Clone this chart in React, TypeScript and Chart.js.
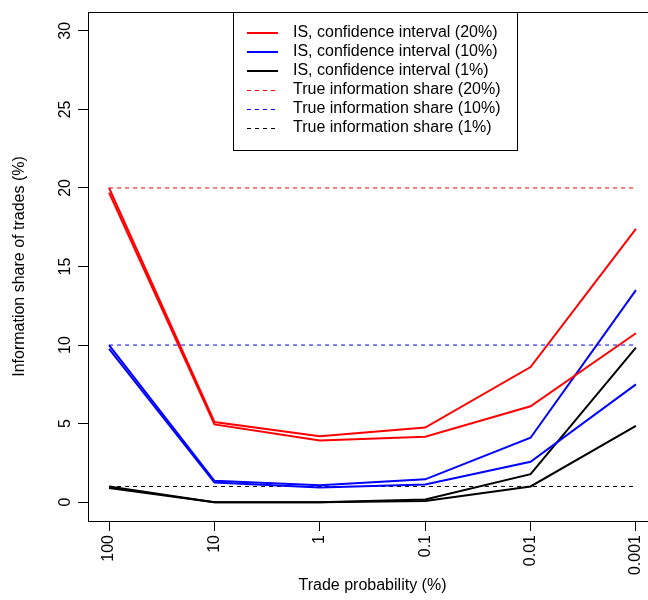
import { useEffect, useRef } from 'react';
import { Chart, registerables } from 'chart.js';

Chart.register(...registerables);

const categories = ['100', '10', '1', '0.1', '0.01', '0.001'];
const xPositions = [1, 2, 3, 4, 5, 6];
const yTicks = [0, 5, 10, 15, 20, 25, 30];

const red20Upper = [20.0, 5.1, 4.2, 4.75, 8.6, 17.4];
const red20Lower = [19.7, 4.95, 3.93, 4.16, 6.1, 10.75];
const blue10Upper = [10.0, 1.36, 1.08, 1.45, 4.1, 13.5];
const blue10Lower = [9.75, 1.25, 0.94, 1.13, 2.57, 7.5];
const black1Upper = [1.0, 0.0, 0.0, 0.17, 1.78, 9.83];
const black1Lower = [0.9, 0.0, 0.0, 0.08, 1.0, 4.86];
const trueShare20 = [20, 20, 20, 20, 20, 20];
const trueShare10 = [10, 10, 10, 10, 10, 10];
const trueShare1 = [1, 1, 1, 1, 1, 1];

const legendLabels = [
  'IS, confidence interval (20%)',
  'IS, confidence interval (10%)',
  'IS, confidence interval (1%)',
  'True information share (20%)',
  'True information share (10%)',
  'True information share (1%)',
];
const legendColors = ['#ff0000', '#0000ff', '#000000', '#ff0000', '#0000ff', '#000000'];
const legendDashed = [false, false, false, true, true, true];

const xTitle = 'Trade probability (%)';
const yTitle = 'Information share of trades (%)';

const FONT = '"Liberation Sans", Arial, Helvetica, sans-serif';

export default function App() {
  const ref = useRef<HTMLCanvasElement>(null);

  useEffect(() => {
    if (!ref.current) return;
    const pts = (arr: number[]) => arr.map((y, i) => ({ x: xPositions[i], y }));
    const solid = (label: string, arr: number[], color: string) => ({
      label,
      data: pts(arr),
      borderColor: color,
      backgroundColor: color,
      borderWidth: 2,
      pointRadius: 0,
      tension: 0,
      fill: false,
    });
    const dashed = (label: string, arr: number[], color: string) => ({
      label,
      data: pts(arr),
      borderColor: color,
      backgroundColor: color,
      borderWidth: 1,
      borderDash: [4, 4],
      pointRadius: 0,
      tension: 0,
      fill: false,
    });

    const datasets = [
      solid(legendLabels[0], red20Upper, legendColors[0]),
      solid(legendLabels[0] + ' lower', red20Lower, legendColors[0]),
      solid(legendLabels[1], blue10Upper, legendColors[1]),
      solid(legendLabels[1] + ' lower', blue10Lower, legendColors[1]),
      solid(legendLabels[2], black1Upper, legendColors[2]),
      solid(legendLabels[2] + ' lower', black1Lower, legendColors[2]),
      dashed(legendLabels[3], trueShare20, legendColors[3]),
      dashed(legendLabels[4], trueShare10, legendColors[4]),
      dashed(legendLabels[5], trueShare1, legendColors[5]),
    ];

    const boxPlugin = {
      id: 'rbox',
      afterDatasetsDraw(chart: any) {
        const { ctx, chartArea } = chart;
        ctx.save();
        ctx.strokeStyle = '#000';
        ctx.lineWidth = 1;
        ctx.setLineDash([]);
        ctx.strokeRect(
          Math.round(chartArea.left) + 0.5,
          Math.round(chartArea.top) + 0.5,
          Math.round(chartArea.right - chartArea.left),
          Math.round(chartArea.bottom - chartArea.top)
        );
        ctx.restore();
      },
    };

    const legendPlugin = {
      id: 'rlegend',
      afterDraw(chart: any) {
        const { ctx } = chart;
        const bx = 233.5, by = 12.5, bw = 284, bh = 138;
        ctx.save();
        ctx.fillStyle = '#fff';
        ctx.fillRect(bx, by, bw, bh);
        ctx.strokeStyle = '#000';
        ctx.lineWidth = 1;
        ctx.setLineDash([]);
        ctx.strokeRect(bx, by, bw, bh);
        ctx.font = `16px ${FONT}`;
        ctx.textBaseline = 'middle';
        ctx.textAlign = 'left';
        legendLabels.forEach((lab, i) => {
          const y = 33 + i * 19;
          ctx.beginPath();
          ctx.strokeStyle = legendColors[i];
          ctx.lineWidth = legendDashed[i] ? 1 : 2;
          ctx.setLineDash(legendDashed[i] ? [4, 4] : []);
          const ly = legendDashed[i] ? y + 0.5 : y;
          ctx.moveTo(247, ly);
          ctx.lineTo(278, ly);
          ctx.stroke();
          ctx.fillStyle = '#000';
          ctx.fillText(lab, 293, y);
        });
        ctx.restore();
      },
    };

    const chart = new Chart(ref.current, {
      type: 'line',
      data: { datasets: datasets as any },
      options: {
        animation: false,
        responsive: false,
        maintainAspectRatio: false,
        devicePixelRatio: 1,
        layout: { padding: { top: 12, right: 3, left: 0, bottom: 0 } },
        plugins: { legend: { display: false }, tooltip: { enabled: false } },
        scales: {
          x: {
            type: 'linear',
            min: 0.8,
            max: 6.2,
            afterBuildTicks: (s: any) => {
              s.ticks = xPositions.map((v) => ({ value: v }));
            },
            afterFit: (s: any) => {
              s.height = 79;
              s.paddingLeft = 0;
              s.paddingRight = 0;
            },
            ticks: {
              autoSkip: false,
              minRotation: 90,
              maxRotation: 90,
              padding: 4,
              color: '#000',
              font: { family: FONT, size: 16 },
              callback: (v: any) => categories[Math.round(Number(v)) - 1] ?? '',
            },
            grid: { drawOnChartArea: false, drawTicks: true, tickLength: 10, color: '#000', lineWidth: 1 },
            border: { display: false },
            title: {
              display: true,
              text: xTitle,
              color: '#000',
              font: { family: FONT, size: 16 },
              padding: { top: 0, bottom: 5 },
            },
          },
          y: {
            type: 'linear',
            min: -1.2,
            max: 31.2,
            afterBuildTicks: (s: any) => {
              s.ticks = yTicks.map((v) => ({ value: v }));
            },
            afterFit: (s: any) => {
              s.width = 88;
              s.paddingTop = 0;
              s.paddingBottom = 0;
            },
            ticks: {
              minRotation: 90,
              maxRotation: 90,
              crossAlign: 'center',
              padding: 4,
              color: '#000',
              font: { family: FONT, size: 16 },
              callback: (v: any) => String(v),
            },
            grid: { drawOnChartArea: false, drawTicks: true, tickLength: 10, color: '#000', lineWidth: 1 },
            border: { display: false },
            title: {
              display: true,
              text: yTitle,
              color: '#000',
              font: { family: FONT, size: 16 },
              padding: { top: 10, bottom: 0 },
            },
          },
        },
      } as any,
      plugins: [boxPlugin, legendPlugin],
    });
    return () => chart.destroy();
  }, []);

  return (
    <div
      style={{
        position: 'absolute',
        left: 0,
        top: 0,
        width: 648,
        height: 600,
        overflow: 'hidden',
        background: '#fff',
      }}
    >
      <canvas ref={ref} width={660} height={600} style={{ display: 'block', width: 660, height: 600 }} />
    </div>
  );
}
